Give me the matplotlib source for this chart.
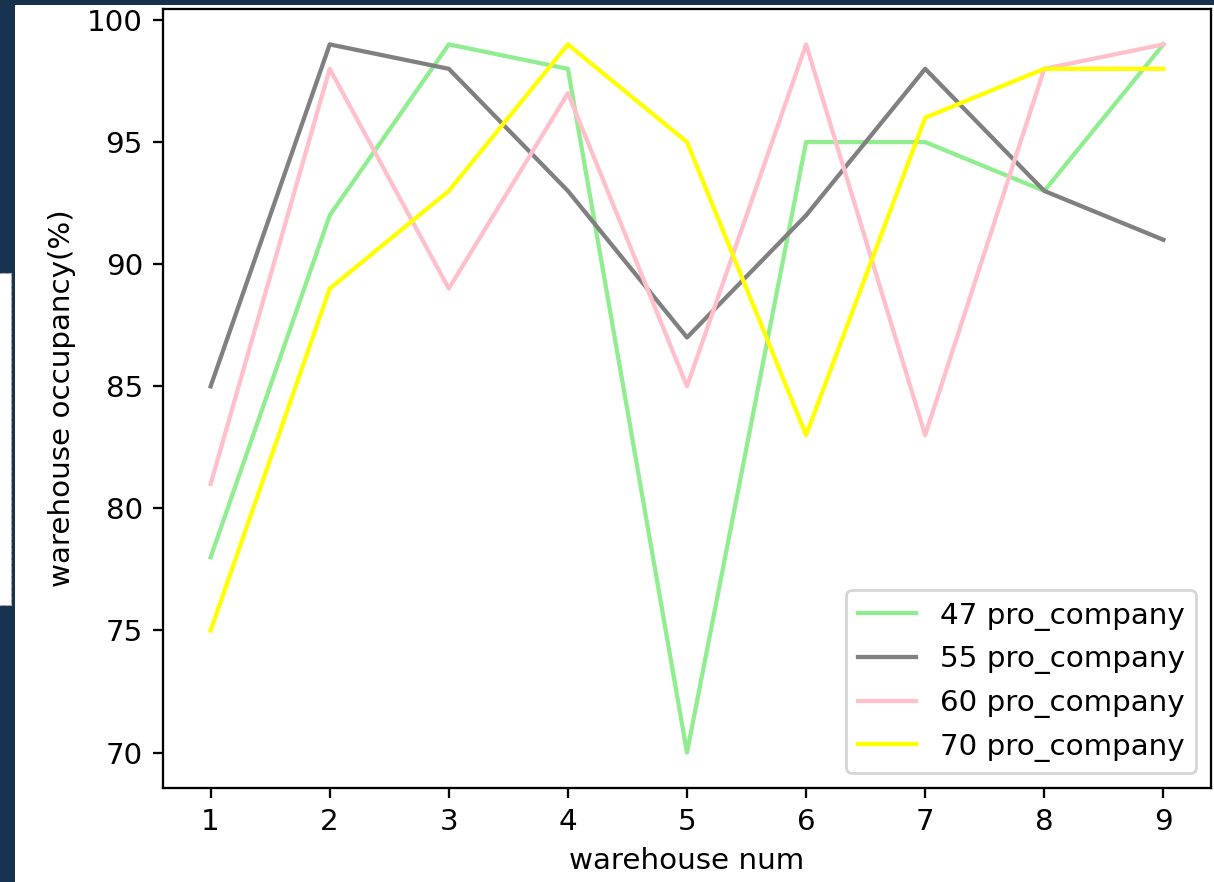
import matplotlib
matplotlib.use("Agg")
import matplotlib.pyplot as plt
from matplotlib.patches import Rectangle

##################################################
# Data
##################################################

warehouse_num = [1, 2, 3, 4, 5, 6, 7, 8, 9]

occ_47 = [78, 92, 99, 98, 70, 95, 95, 93, 99]
occ_55 = [85, 99, 98, 93, 87, 92, 98, 93, 91]
occ_60 = [81, 98, 89, 97, 85, 99, 83, 98, 99]
occ_70 = [75, 89, 93, 99, 95, 83, 96, 98, 98]

labels = ["47 pro_company", "55 pro_company", "60 pro_company", "70 pro_company"]
colors = ["lightgreen", "gray", "pink", "yellow"]

##################################################
# Figure: screenshot of a notebook chart on a slide
##################################################

plt.rcParams["font.size"] = 10.3

W, H, DPI = 1214, 882, 205
fig = plt.figure(figsize=(W / DPI, H / DPI), dpi=DPI)
fig.patch.set_facecolor("#16324f")


def px_rect(x0, y0, x1, y1, **kw):
    # rectangle given in image pixels (top-left origin), drawn behind the axes
    return Rectangle((x0 / W, 1 - y1 / H), (x1 - x0) / W, (y1 - y0) / H,
                     transform=fig.transFigure, zorder=-5, **kw)


# white chart area and the small slide panel on the left edge
fig.patches.append(px_rect(15, 5, W, H, facecolor="white", edgecolor="none"))
fig.patches.append(px_rect(-2, 273, 11, 605, facecolor="white",
                           edgecolor="#b0b0b0", linestyle="--", linewidth=0.4))

ax = fig.add_axes([163 / W, 1 - 788 / H, (1211 - 163) / W, (788 - 9) / H])

series = [occ_47, occ_55, occ_60, occ_70]
for values, label, color in zip(series, labels, colors):
    ax.plot(warehouse_num, values, color=color, label=label)

ax.set_xlabel("warehouse num")
ax.set_ylabel("warehouse occupancy(%)")
ax.legend(loc="lower right")

fig.savefig("out.png", dpi=DPI, facecolor=fig.get_facecolor())
